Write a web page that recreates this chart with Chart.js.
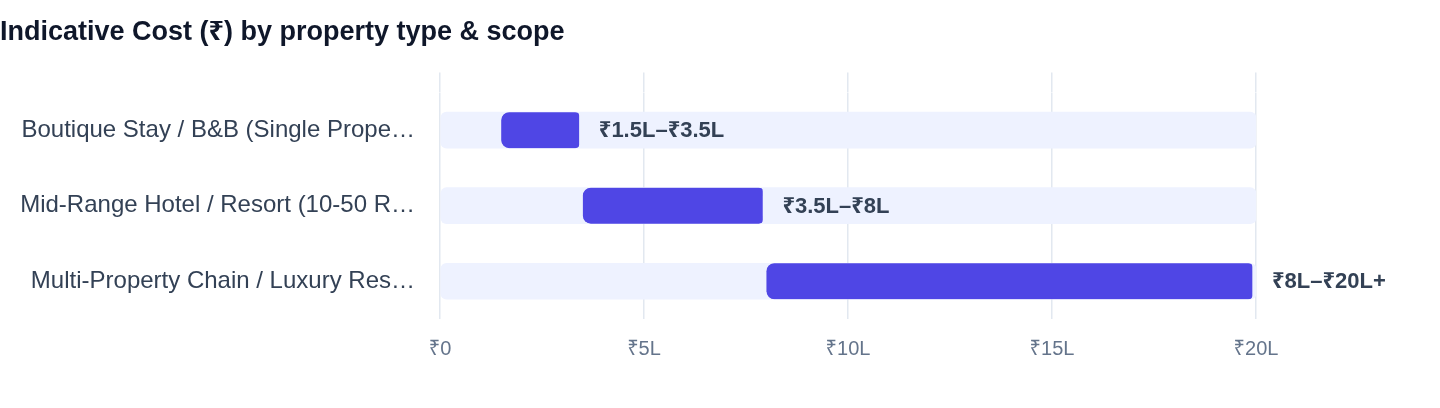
<!DOCTYPE html>
<html>
<head>
<meta charset="utf-8">
<script src="https://cdn.jsdelivr.net/npm/chart.js@4"></script>
<style>
  html, body { margin: 0; padding: 0; background: #fff; }
  #wrap { width: 1440px; height: 408px; position: relative; }
</style>
</head>
<body>
<div id="wrap"><canvas id="costChart"></canvas></div>
<script>
// chart data
const categories = [
  'Boutique Stay / B&B (Single Property)',
  'Mid-Range Hotel / Resort (10-50 Rooms)',
  'Multi-Property Chain / Luxury Resort'
];
const costLow = [1.5, 3.5, 8];     // lakh
const costHigh = [3.5, 8, 20];     // lakh
const rangeLabels = ['₹1.5L–₹3.5L', '₹3.5L–₹8L', '₹8L–₹20L+'];
const tickValues = [0, 5, 10, 15, 20];
const tickLabels = ['₹0', '₹5L', '₹10L', '₹15L', '₹20L'];
const axisMax = 20;

const fontStack = "'Helvetica Neue', Helvetica, Arial, 'Liberation Sans', 'Noto Sans', sans-serif";
Chart.defaults.font.family = fontStack;

function shorten(s) {
  return s.length > 33 ? s.slice(0, 33) + '…' : s;
}

// writes the range text just past the end of each bar
const rangeText = {
  id: 'rangeText',
  afterDatasetsDraw(chart) {
    const ctx = chart.ctx;
    const meta = chart.getDatasetMeta(1);
    ctx.save();
    ctx.font = 'bold 22px ' + fontStack;
    ctx.fillStyle = '#334155';
    ctx.textBaseline = 'middle';
    ctx.textAlign = 'left';
    meta.data.forEach(function(bar, i) {
      ctx.fillText(rangeLabels[i], bar.x + 16, bar.y + 1);
    });
    ctx.restore();
  }
};

const ctx = document.getElementById('costChart');
new Chart(ctx, {
  type: 'bar',
  data: {
    labels: categories,
    datasets: [
      {
        label: 'track',
        data: categories.map(function() { return [0, axisMax]; }),
        backgroundColor: '#eef2ff',
        borderRadius: 6,
        borderSkipped: false,
        barThickness: 36,
        grouped: false,
        order: 2
      },
      {
        label: 'Indicative Cost',
        data: costLow.map(function(v, i) { return [v, costHigh[i]]; }),
        backgroundColor: '#4f46e5',
        borderColor: '#eef2ff',
        borderWidth: { left: 0, top: 0, bottom: 0, right: 4 },
        borderRadius: 8,
        borderSkipped: false,
        barThickness: 36,
        grouped: false,
        order: 1
      }
    ]
  },
  options: {
    indexAxis: 'y',
    responsive: true,
    maintainAspectRatio: false,
    animation: false,
    layout: { padding: { left: 0, right: 184, top: 0, bottom: 29 } },
    plugins: {
      legend: { display: false },
      tooltip: { enabled: false },
      title: {
        display: true,
        text: 'Indicative Cost (₹) by property type & scope',
        align: 'start',
        color: '#0f172a',
        font: { size: 27, weight: 'bold' },
        padding: { top: 16, bottom: 24 }
      }
    },
    scales: {
      x: {
        position: 'bottom',
        min: 0,
        max: axisMax,
        afterBuildTicks: function(scale) {
          scale.ticks = tickValues.map(function(v) { return { value: v }; });
        },
        grid: { color: '#e2e8f0', lineWidth: 1.5, drawTicks: false },
        border: { display: false },
        ticks: {
          padding: 18,
          color: '#64748b',
          font: { size: 20 },
          callback: function(v) {
            const i = tickValues.indexOf(v);
            return i >= 0 ? tickLabels[i] : '';
          }
        }
      },
      x2: {
        type: 'linear',
        axis: 'x',
        position: 'top',
        min: 0,
        max: axisMax,
        afterBuildTicks: function(scale) {
          scale.ticks = tickValues.map(function(v) { return { value: v }; });
        },
        grid: { color: '#e2e8f0', lineWidth: 1.5, drawOnChartArea: false, drawTicks: true, tickLength: 20 },
        border: { display: false },
        ticks: { display: false }
      },
      y: {
        grid: { display: false },
        border: { display: false },
        afterFit: function(scale) { scale.width = 440; },
        ticks: {
          padding: 17,
          color: '#334155',
          font: { size: 24 },
          callback: function(v) { return shorten(categories[v]); }
        }
      }
    }
  },
  plugins: [rangeText]
});
</script>
</body>
</html>
